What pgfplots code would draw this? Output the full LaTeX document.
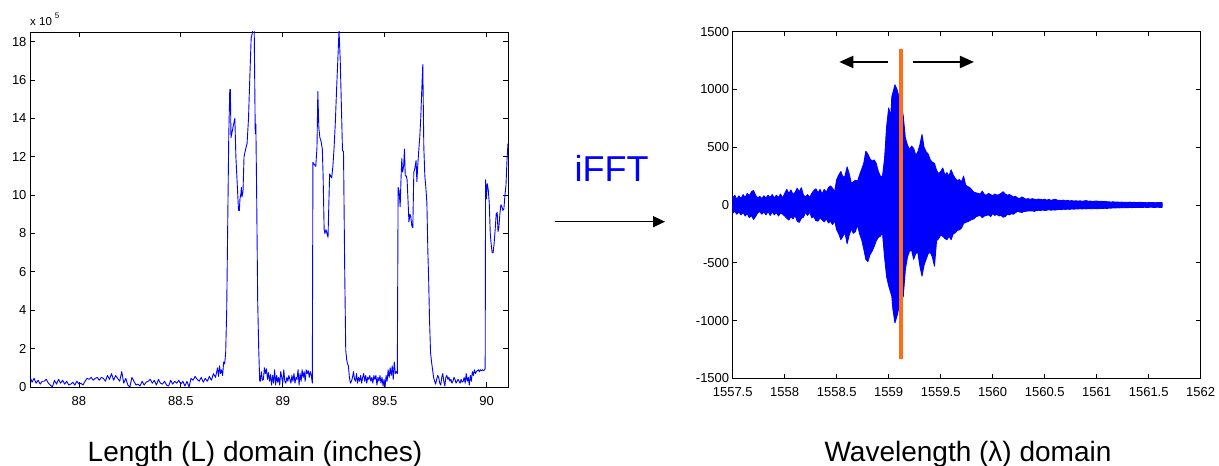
\documentclass[border=0pt]{standalone}
\usepackage{fontspec}
\setmainfont{Liberation Sans}
\usepackage{pgfplots}
\usepackage{pgfplotstable}
\pgfplotsset{compat=1.18}
\usetikzlibrary{arrows.meta}
\definecolor{sigblue}{RGB}{0,0,255}
\definecolor{cutorange}{RGB}{255,110,20}

\pgfplotstableread{
x y
87.76 0.55
87.77 0.25
87.78 0.45
87.79 0.2
87.80 0.35
87.81 0.15
87.82 0.3
87.83 0.3
87.84 0.4
87.85 0.2
87.86 0.1
87.87 0.0
87.88 0.35
87.89 0.15
87.90 0.4
87.91 0.2
87.92 0.35
87.93 0.15
87.94 0.3
87.95 0.1
87.96 0.15
87.97 0.25
87.98 0.1
87.99 0.3
88.00 0.15
88.01 0.2
88.02 0.1
88.03 0.3
88.04 0.45
88.05 0.4
88.06 0.5
88.07 0.35
88.08 0.45
88.09 0.5
88.10 0.35
88.11 0.5
88.12 0.45
88.13 0.3
88.14 0.6
88.15 0.4
88.16 0.7
88.17 0.35
88.18 0.6
88.19 0.45
88.20 0.3
88.21 0.8
88.22 0.2
88.23 0.45
88.24 0.1
88.25 0.0
88.26 0.5
88.27 0.3
88.28 0.1
88.29 0.15
88.30 0.05
88.31 0.3
88.32 0.1
88.33 0.25
88.34 0.3
88.35 0.4
88.36 0.2
88.37 0.35
88.38 0.1
88.39 0.4
88.40 0.2
88.41 0.15
88.42 0.3
88.43 0.1
88.44 0.05
88.45 0.35
88.46 0.15
88.47 0.3
88.48 0.2
88.49 0.35
88.50 0.15
88.51 0.3
88.52 0.05
88.53 0.3
88.54 0.0
88.55 0.45
88.56 0.35
88.57 0.55
88.58 0.4
88.59 0.3
88.60 0.5
88.61 0.25
88.62 0.45
88.63 0.3
88.64 0.55
88.65 0.35
88.66 0.7
88.67 0.5
88.68 1.0
88.685 0.55
88.69 1.1
88.695 0.7
88.70 0.9
88.705 0.6
88.71 1.3
88.715 1.2
88.72 1.8
88.725 4.0
88.73 8.5
88.735 13.0
88.74 15.5
88.743 15.5
88.746 13.0
88.75 13.2
88.757 13.6
88.765 14.0
88.77 12.0
88.777 10.5
88.783 9.2
88.787 9.2
88.79 9.8
88.795 10.1
88.797 10.4
88.80 9.9
88.805 10.2
88.81 12.0
88.818 12.4
88.825 12.7
88.832 14.0
88.838 16.0
88.845 18.2
88.85 18.4
88.855 18.8
88.86 18.6
88.865 13.2
88.868 13.7
88.872 10.0
88.877 4.5
88.882 2.0
88.887 0.3
88.89 0.3
88.895 0.8
88.90 0.35
88.905 0.4
88.91 1.0
88.915 0.7
88.92 0.95
88.925 0.4
88.93 0.75
88.935 0.3
88.94 0.65
88.945 0.1
88.95 0.6
88.955 0.2
88.96 0.9
88.965 0.1
88.97 0.6
88.975 0.25
88.98 0.5
88.985 0.1
88.99 0.8
89.00 0.2
89.005 0.9
89.01 0.3
89.015 0.2
89.02 0.5
89.025 0.3
89.03 0.6
89.035 0.4
89.04 0.2
89.045 0.6
89.05 0.3
89.055 0.7
89.06 0.2
89.065 0.5
89.07 0.4
89.075 0.9
89.08 0.1
89.085 0.7
89.09 0.3
89.095 0.9
89.10 0.5
89.105 0.8
89.11 0.3
89.115 0.9
89.12 0.7
89.125 0.85
89.13 0.5
89.135 0.8
89.14 0.6
89.145 0.2
89.148 11.7
89.155 11.6
89.162 11.5
89.168 12.5
89.172 15.4
89.177 13.5
89.182 13.0
89.188 12.8
89.194 12.4
89.198 11.0
89.203 8.2
89.207 8.0
89.212 8.2
89.217 8.0
89.222 7.8
89.226 9.5
89.23 11.1
89.235 11.0
89.24 10.9
89.246 11.5
89.252 12.5
89.258 13.8
89.264 15.5
89.27 17.0
89.276 18.6
89.282 17.0
89.288 14.5
89.293 12.3
89.298 12.3
89.304 6.0
89.309 1.9
89.314 1.4
89.318 1.2
89.322 1.1
89.327 0.5
89.332 0.2
89.337 0.3
89.342 0.5
89.347 0.8
89.352 0.4
89.357 0.3
89.362 0.7
89.367 0.2
89.372 0.5
89.377 0.3
89.382 0.6
89.387 0.2
89.392 0.5
89.397 0.7
89.402 0.3
89.407 0.6
89.412 0.2
89.417 0.5
89.422 0.4
89.427 0.6
89.432 0.3
89.437 0.5
89.442 0.2
89.447 0.6
89.452 0.4
89.457 0.6
89.462 0.1
89.467 0.5
89.472 0.3
89.477 0.6
89.482 0.2
89.487 0.5
89.492 0.05
89.497 0.4
89.502 0.0
89.507 0.6
89.512 0.3
89.517 0.9
89.522 0.5
89.527 1.0
89.532 0.6
89.537 1.1
89.542 0.4
89.547 1.3
89.552 0.7
89.557 0.8
89.562 0.7
89.566 10.4
89.571 10.2
89.576 9.4
89.58 10.8
89.584 11.9
89.588 11.2
89.593 11.5
89.597 12.4
89.601 11.0
89.606 11.0
89.61 10.8
89.615 9.6
89.619 8.6
89.624 9.0
89.628 8.9
89.633 8.4
89.638 8.3
89.643 11.2
89.648 11.4
89.654 11.8
89.658 10.7
89.662 11.5
89.667 12.3
89.672 13.0
89.677 14.0
89.682 15.5
89.687 16.8
89.692 12.5
89.697 11.0
89.702 10.4
89.707 9.6
89.712 7.0
89.716 5.5
89.72 3.5
89.725 1.8
89.73 1.3
89.735 0.9
89.74 0.5
89.745 0.3
89.75 0.15
89.755 0.4
89.76 0.6
89.765 0.5
89.77 0.2
89.775 0.1
89.78 0.5
89.785 0.7
89.79 0.3
89.795 0.05
89.80 0.5
89.805 0.6
89.81 0.4
89.815 0.5
89.82 0.3
89.825 0.4
89.83 0.2
89.835 0.3
89.84 0.5
89.845 0.4
89.85 0.2
89.855 0.3
89.86 0.4
89.865 0.3
89.87 0.2
89.875 0.4
89.88 0.25
89.885 0.3
89.89 0.5
89.895 0.2
89.90 0.7
89.905 0.3
89.91 0.5
89.915 0.1
89.92 0.6
89.925 0.3
89.93 0.8
89.935 0.6
89.94 0.9
89.945 0.7
89.95 0.8
89.955 0.85
89.96 0.9
89.965 0.8
89.97 0.9
89.975 0.85
89.98 0.9
89.985 0.85
89.99 0.9
89.993 0.95
89.995 10.8
89.999 9.8
90.003 10.6
90.008 10.3
90.013 9.6
90.018 8.0
90.022 7.5
90.027 7.0
90.032 7.0
90.037 7.5
90.042 8.2
90.047 9.0
90.052 9.1
90.056 8.1
90.06 8.3
90.065 9.0
90.07 9.5
90.075 9.4
90.08 9.2
90.085 9.3
90.09 10.0
90.095 10.5
90.10 11.8
90.105 12.7
}\lengthdata

\pgfplotstableread{
x up lo
1557.50 60 -70
1557.52 85 -55
1557.54 50 -80
1557.56 80 -60
1557.58 55 -85
1557.60 90 -65
1557.62 65 -95
1557.64 100 -75
1557.66 80 -110
1557.68 115 -90
1557.70 125 -125
1557.72 85 -100
1557.74 60 -70
1557.76 75 -55
1557.78 55 -80
1557.80 80 -60
1557.82 60 -85
1557.84 85 -55
1557.86 65 -90
1557.88 90 -60
1557.90 60 -85
1557.92 85 -65
1557.94 65 -95
1557.96 95 -70
1557.98 60 -80
1558.00 100 -95
1558.02 135 -115
1558.04 100 -130
1558.06 130 -100
1558.08 90 -120
1558.10 110 -90
1558.12 145 -140
1558.14 115 -150
1558.16 150 -115
1558.18 85 -105
1558.20 70 -65
1558.22 90 -90
1558.24 65 -60
1558.26 100 -110
1558.28 125 -100
1558.30 140 -135
1558.32 105 -140
1558.34 135 -110
1558.36 95 -130
1558.38 135 -145
1558.40 110 -120
1558.42 150 -155
1558.44 165 -140
1558.46 145 -170
1558.48 115 -135
1558.50 220 -215
1558.52 260 -250
1558.54 290 -300
1558.56 240 -270
1558.58 250 -240
1558.60 330 -335
1558.62 270 -260
1558.64 190 -210
1558.66 200 -245
1558.68 215 -230
1558.70 205 -170
1558.72 260 -250
1558.74 310 -300
1558.76 360 -380
1558.78 465 -470
1558.80 440 -490
1558.82 400 -430
1558.84 380 -400
1558.86 390 -360
1558.88 360 -310
1558.90 290 -280
1558.92 250 -270
1558.94 245 -240
1558.96 400 -450
1558.98 680 -620
1559.00 840 -700
1559.02 770 -760
1559.03 940 -790
1559.04 970 -900
1559.06 1040 -1020
1559.08 1000 -960
1559.10 930 -880
1559.12 870 -830
1559.14 770 -790
1559.16 580 -560
1559.18 520 -450
1559.20 480 -400
1559.22 510 -390
1559.24 490 -470
1559.26 430 -420
1559.28 460 -410
1559.30 520 -530
1559.32 610 -615
1559.34 500 -520
1559.36 460 -470
1559.38 440 -420
1559.40 390 -410
1559.42 370 -450
1559.44 360 -530
1559.46 300 -310
1559.48 270 -290
1559.50 290 -260
1559.52 320 -270
1559.54 260 -290
1559.56 280 -300
1559.58 250 -270
1559.60 305 -300
1559.62 260 -250
1559.64 230 -240
1559.66 210 -220
1559.68 220 -215
1559.70 200 -200
1559.72 250 -160
1559.74 170 -150
1559.76 160 -145
1559.78 150 -135
1559.80 130 -125
1559.82 110 -120
1559.84 105 -100
1559.86 100 -95
1559.88 95 -90
1559.90 120 -110
1559.92 90 -95
1559.94 85 -90
1559.96 100 -85
1559.98 90 -100
1560.00 80 -75
1560.02 95 -90
1560.04 85 -80
1560.06 90 -95
1560.08 100 -90
1560.10 115 -105
1560.12 95 -100
1560.14 85 -80
1560.16 90 -85
1560.18 80 -75
1560.20 70 -80
1560.22 75 -65
1560.24 60 -55
1560.26 55 -60
1560.28 70 -65
1560.30 60 -55
1560.32 50 -55
1560.34 55 -50
1560.36 48 -52
1560.38 55 -50
1560.40 50 -55
1560.42 45 -48
1560.44 52 -45
1560.46 48 -50
1560.48 45 -42
1560.50 50 -48
1560.52 42 -45
1560.54 48 -40
1560.56 40 -45
1560.58 45 -42
1560.60 50 -44
1560.62 42 -40
1560.64 40 -38
1560.66 38 -40
1560.68 42 -36
1560.70 36 -38
1560.72 40 -35
1560.74 35 -38
1560.76 38 -34
1560.78 34 -36
1560.80 37 -33
1560.82 33 -35
1560.84 36 -32
1560.86 32 -34
1560.88 35 -31
1560.90 38 -34
1560.92 32 -30
1560.94 34 -33
1560.96 30 -32
1560.98 33 -30
1561.00 35 -33
1561.02 30 -31
1561.04 32 -29
1561.06 29 -30
1561.08 31 -28
1561.10 28 -30
1561.12 27 -26
1561.14 25 -27
1561.16 28 -24
1561.18 24 -26
1561.20 26 -23
1561.22 23 -25
1561.24 25 -22
1561.26 22 -24
1561.28 24 -22
1561.30 22 -23
1561.32 25 -21
1561.34 21 -23
1561.36 23 -20
1561.38 20 -22
1561.40 22 -21
1561.42 24 -20
1561.44 20 -22
1561.46 22 -19
1561.48 19 -21
1561.50 21 -20
1561.52 20 -19
1561.54 22 -20
1561.56 19 -21
1561.58 21 -19
1561.60 20 -20
1561.63 20 -20
}\wavedata

\begin{document}
\begin{tikzpicture}
\useasboundingbox (0pt,0pt) rectangle (1219pt,466pt);
\pgfplotsset{
  every axis/.append style={
    scale only axis,
    anchor=south west,
    axis line style={line width=0.9pt},
    every tick/.style={black, line width=0.8pt},
    tick align=inside,
    ticklabel style={font=\fontsize{13}{13}\selectfont},
    /pgf/number format/assume math mode=true,
    /pgf/number format/1000 sep={},
    scaled ticks=false,
    minor tick num=0,
  }
}
% Left: length domain
\begin{axis}[
  at={(30pt,79pt)}, width=478pt, height=355pt,
  xmin=87.76, xmax=90.105, ymin=0, ymax=18.5,
  xtick={88,88.5,89,89.5,90},
  ytick={0,2,4,6,8,10,12,14,16,18},
  major tick length=5pt,
  xticklabel style={yshift=-6pt},
]
\addplot[sigblue, line width=0.9pt, line join=round, mark=none] table[x=x,y=y] {\lengthdata};
\end{axis}

% Right: wavelength domain
\begin{axis}[
  at={(732.7pt,87.7pt)}, width=468pt, height=346.6pt,
  xmin=1557.5, xmax=1562, ymin=-1500, ymax=1500,
  xtick={1557.5,1558,1558.5,1559,1559.5,1560,1560.5,1561,1561.5,1562},
  ytick={-1500,-1000,-500,0,500,1000,1500},
  xticklabel style={/pgf/number format/fixed, /pgf/number format/precision=1, yshift=-5.5pt},
  major tick length=4.5pt,
]
\addplot[draw=sigblue, fill=sigblue, line width=0.9pt, line join=round, mark=none] table[x=x,y=up] {\wavedata} \closedcycle;
\addplot[draw=sigblue, fill=sigblue, line width=0.9pt, line join=round, mark=none] table[x=x,y=lo] {\wavedata} \closedcycle;
\addplot[cutorange, line width=4pt, mark=none] coordinates {(1559.115,-1330) (1559.115,1350)};
\addplot[black, line width=2pt, mark=none, -{Triangle[length=14pt,width=12pt]}] coordinates {(1558.996,1238) (1558.525,1238)};
\addplot[black, line width=2pt, mark=none, -{Triangle[length=14pt,width=12pt]}] coordinates {(1559.23,1238) (1559.82,1238)};
\end{axis}

% annotations
\node[anchor=base west, inner sep=0pt, font=\fontsize{11.5}{11.5}\selectfont] at (30pt,440pt) {x 10\hspace{3pt}\raisebox{7pt}{\fontsize{8}{8}\selectfont 5}};
\node[anchor=base, inner sep=0pt, text=sigblue, font=\fontsize{36}{36}\selectfont] at (611.5pt,284.3pt) {iFFT};
\draw[black, line width=1.5pt, -{Triangle[length=12pt,width=11pt]}] (555pt,244.3pt) -- (665pt,244.3pt);
\node[anchor=base, inner sep=0pt, font=\fontsize{28}{28}\selectfont] at (255pt,4.5pt) {Length (L) domain (inches)};
\node[anchor=base, inner sep=0pt, font=\fontsize{28}{28}\selectfont] at (968pt,4.5pt) {Wavelength (λ) domain};
\end{tikzpicture}
\end{document}
